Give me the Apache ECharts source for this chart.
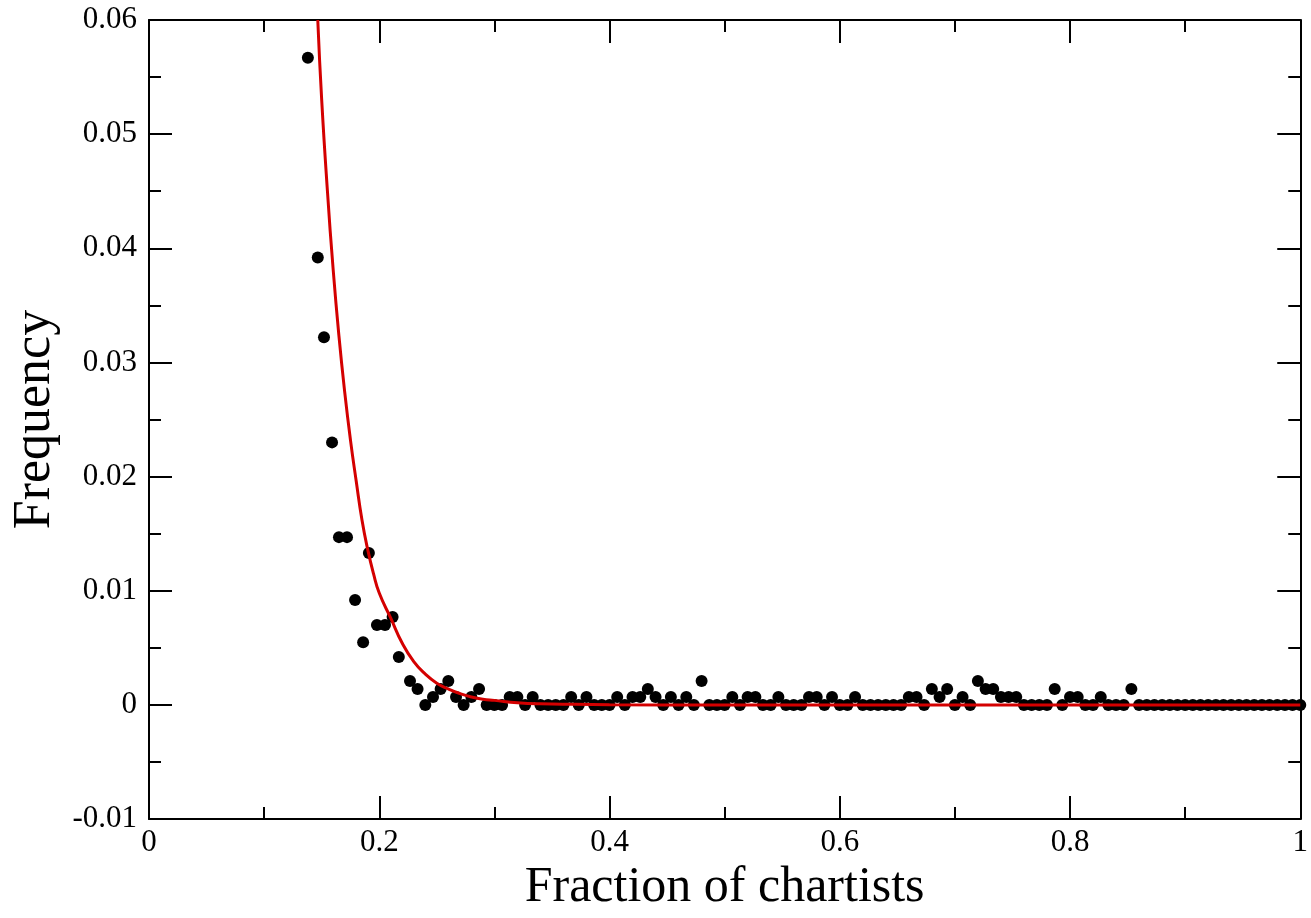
<!DOCTYPE html>
<html>
<head>
<meta charset="utf-8">
<script src="https://cdn.jsdelivr.net/npm/echarts@6/dist/echarts.min.js"></script>
<style>
html,body{margin:0;padding:0;background:#fff;}
#chart{width:1311px;height:918px;}
</style>
</head>
<body>
<div id="chart"></div>
<script>
// Scatter data: fraction of chartists (x) and observed frequency (y)
const pointX = [
  0.138, 0.1466, 0.152, 0.159, 0.165, 0.172, 0.179, 0.186, 0.191, 0.198, 0.205, 0.2116, 0.217,
  0.2267, 0.2333, 0.24, 0.2467, 0.2533, 0.26, 0.2667, 0.2733, 0.28, 0.2867, 0.2933,
  0.3, 0.3067, 0.3133, 0.32, 0.3267, 0.3333, 0.34, 0.3467, 0.3533, 0.36, 0.3667, 0.3733,
  0.38, 0.3867, 0.3933, 0.4, 0.4067, 0.4133, 0.42, 0.4267, 0.4333, 0.44, 0.4467, 0.4533,
  0.46, 0.4667, 0.4733, 0.48, 0.4867, 0.4933, 0.5, 0.5067, 0.5133, 0.52, 0.5267, 0.5333,
  0.54, 0.5467, 0.5533, 0.56, 0.5667, 0.5733, 0.58, 0.5867, 0.5933, 0.6, 0.6067, 0.6133,
  0.62, 0.6267, 0.6333, 0.64, 0.6467, 0.6533, 0.66, 0.6667, 0.6733, 0.68, 0.6867, 0.6933,
  0.7, 0.7067, 0.7133, 0.72, 0.7267, 0.7333, 0.74, 0.7467, 0.7533, 0.76, 0.7667, 0.7733,
  0.78, 0.7867, 0.7933, 0.8, 0.8067, 0.8133, 0.82, 0.8267, 0.8333, 0.84, 0.8467, 0.8533,
  0.86, 0.8667, 0.8733, 0.88, 0.8867, 0.8933, 0.9, 0.9067, 0.9133, 0.92, 0.9267, 0.9333,
  0.94, 0.9467, 0.9533, 0.96, 0.9667, 0.9733, 0.98, 0.9867, 0.9933, 1.0
];
const pointY = [
  0.0567, 0.0392, 0.0322, 0.0230, 0.0147, 0.0147, 0.0092, 0.0055, 0.0133, 0.0070, 0.0070, 0.0077, 0.0042,
  0.0021, 0.0014, 0, 0.0007, 0.0014, 0.0021, 0.0007, 0, 0.0007, 0.0014, 0,
  0, 0, 0.0007, 0.0007, 0, 0.0007, 0, 0, 0, 0, 0.0007, 0,
  0.0007, 0, 0, 0, 0.0007, 0, 0.0007, 0.0007, 0.0014, 0.0007, 0, 0.0007,
  0, 0.0007, 0, 0.0021, 0, 0, 0, 0.0007, 0, 0.0007, 0.0007, 0,
  0, 0.0007, 0, 0, 0, 0.0007, 0.0007, 0, 0.0007, 0, 0, 0.0007,
  0, 0, 0, 0, 0, 0, 0.0007, 0.0007, 0, 0.0014, 0.0007, 0.0014,
  0, 0.0007, 0, 0.0021, 0.0014, 0.0014, 0.0007, 0.0007, 0.0007, 0, 0, 0,
  0, 0.0014, 0, 0.0007, 0.0007, 0, 0, 0.0007, 0, 0, 0, 0.0014,
  0, 0, 0, 0, 0, 0, 0, 0, 0, 0, 0, 0,
  0, 0, 0, 0, 0, 0, 0, 0, 0, 0
];
// Fitted curve (red)
const curveX = [0.1466, 0.150, 0.155, 0.160, 0.165, 0.170, 0.175, 0.180, 0.185, 0.190, 0.195, 0.200,
  0.210, 0.220, 0.230, 0.240, 0.250, 0.260, 0.270, 0.280, 0.290, 0.300, 0.320, 0.340, 0.370, 0.400,
  0.500, 0.600, 0.800, 1.000];
const curveY = [0.0600, 0.0530, 0.0450, 0.0381, 0.0323, 0.0274, 0.0232, 0.0196, 0.0162, 0.0136, 0.0115, 0.0098,
  0.0076, 0.0054, 0.0038, 0.0027, 0.0019, 0.0014, 0.0010, 0.0007, 0.0005, 0.0004, 0.0002, 0.0001, 0.00005, 0.00002,
  0, 0, 0, 0];
// Axis ticks
const xTicks = {min: 0, max: 1, interval: 0.2};
const yTicks = {min: -0.01, max: 0.06, interval: 0.01};
const xTitle = 'Fraction of chartists';
const yTitle = 'Frequency';

const font = 'Liberation Serif, Times New Roman, serif';
const scatterData = pointX.map((x, i) => [x, pointY[i]]);
const curveData = curveX.map((x, i) => [x, curveY[i]]);

function axisCommon(extra) {
  return Object.assign({
    type: 'value',
    axisLine: {show: true, onZero: false, lineStyle: {color: '#000', width: 2}},
    axisTick: {show: true, inside: true, length: 23, lineStyle: {color: '#000', width: 2}},
    minorTick: {show: true, splitNumber: 2, length: 12, lineStyle: {color: '#000', width: 2}},
    splitLine: {show: false},
    minorSplitLine: {show: false}
  }, extra);
}

const chart = echarts.init(document.getElementById('chart'), null, {renderer: 'canvas'});
chart.setOption({
  backgroundColor: '#fff',
  animation: false,
  grid: {left: 149, right: 9, top: 20, bottom: 91, containLabel: false},
  xAxis: [
    axisCommon({
      position: 'bottom', min: xTicks.min, max: xTicks.max, interval: xTicks.interval,
      name: xTitle, nameLocation: 'middle', nameGap: 36,
      nameTextStyle: {fontFamily: font, fontSize: 50, color: '#000'},
      axisLabel: {show: true, margin: 8, fontFamily: font, fontSize: 31, color: '#000',
        formatter: v => String(+v.toFixed(1))}
    }),
    axisCommon({
      position: 'top', min: xTicks.min, max: xTicks.max, interval: xTicks.interval,
      axisLabel: {show: false}
    })
  ],
  yAxis: [
    axisCommon({
      position: 'left', min: yTicks.min, max: yTicks.max, interval: yTicks.interval,
      name: yTitle, nameLocation: 'middle', nameGap: 86, nameRotate: 90,
      nameTextStyle: {fontFamily: font, fontSize: 52, color: '#000'},
      axisLabel: {show: true, margin: 12, fontFamily: font, fontSize: 31, color: '#000',
        formatter: v => String(+v.toFixed(2))}
    }),
    axisCommon({
      position: 'right', min: yTicks.min, max: yTicks.max, interval: yTicks.interval,
      axisLabel: {show: false}
    })
  ],
  series: [
    {
      type: 'scatter', xAxisIndex: 0, yAxisIndex: 0, data: scatterData,
      symbol: 'circle', symbolSize: 12,
      itemStyle: {color: '#000', opacity: 1}, z: 2
    },
    {
      type: 'line', xAxisIndex: 0, yAxisIndex: 0, data: curveData,
      showSymbol: false, smooth: true, clip: true,
      lineStyle: {color: '#d40000', width: 3}, z: 3
    }
  ]
});
</script>
</body>
</html>
